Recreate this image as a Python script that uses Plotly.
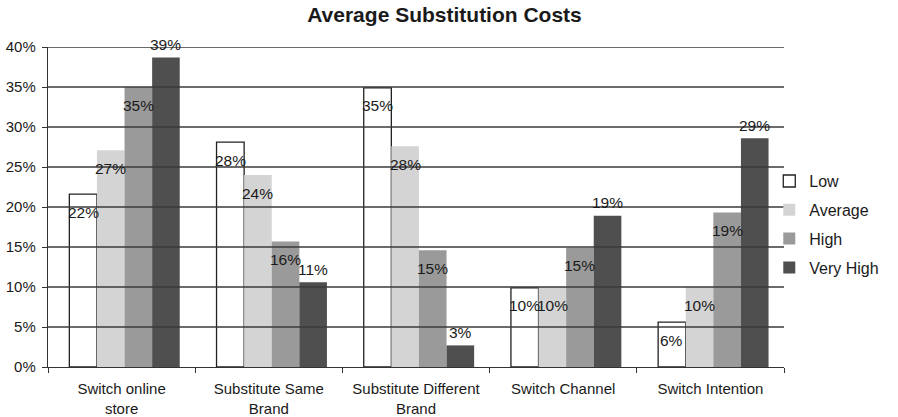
import plotly.graph_objects as go

# Categories (wrapped on two lines where the axis label wraps)
categories = [
    "Switch online<br>store",
    "Substitute Same<br>Brand",
    "Substitute Different<br>Brand",
    "Switch Channel",
    "Switch Intention",
]

series_names = ["Low", "Average", "High", "Very High"]

# Share of respondents (%) per substitution-cost level
low = [21.6, 28.1, 34.9, 9.9, 5.6]
average = [27.1, 24.0, 27.6, 10.0, 10.0]
high = [35.0, 15.7, 14.6, 14.9, 19.3]
very_high = [38.7, 10.6, 2.7, 18.9, 28.6]

y_ticks = [0, 5, 10, 15, 20, 25, 30, 35, 40]
y_tick_labels = [f"{t}%" for t in y_ticks]

series_values = [low, average, high, very_high]
fills = ["#ffffff", "#d4d4d4", "#9a9a9a", "#4f4f4f"]
outline_widths = [1.3, 0, 0, 0]

FONT = "Liberation Sans, Arial, Helvetica, sans-serif"
BARGAP = 0.25
GROUP_SHIFT = 0.02  # bar cluster sits slightly right of the category centre

n = len(series_names)
bar_w = (1 - BARGAP) / n


def bar_center_offset(i):
    return -(1 - BARGAP) / 2 + (i + 0.5) * bar_w + GROUP_SHIFT


fig = go.Figure()
for i, (name, vals) in enumerate(zip(series_names, series_values)):
    fig.add_trace(go.Bar(
        x=categories,
        y=vals,
        name=name,
        legendgroup=name,
        width=bar_w,
        offset=bar_center_offset(i) - bar_w / 2,
        marker=dict(color=fills[i], line=dict(color="#222222", width=outline_widths[i])),
        hoverinfo="skip",
    ))

# Value labels above (Very High) or just inside the top of each bar
annotations = []
for i, vals in enumerate(series_values):
    off = bar_center_offset(i)
    outside = (i == n - 1)
    for j, v in enumerate(vals):
        annotations.append(dict(
            x=j + off, y=v, xref="x", yref="y",
            text=f"{v:.0f}%", showarrow=False,
            yshift=13 if outside else -18,
            font=dict(family=FONT, size=15.5, color="#1a1a1a"),
        ))

# Horizontal gridlines drawn over the bars
shapes = []
for t in y_ticks[1:]:
    shapes.append(dict(
        type="line", xref="paper", x0=0, x1=1, yref="y", y0=t, y1=t,
        line=dict(color="#3a3a3a", width=1.4), layer="above",
    ))

fig.update_layout(
    width=898, height=417, autosize=False,
    margin=dict(l=48, r=114, t=47, b=50, autoexpand=False),
    paper_bgcolor="white", plot_bgcolor="white",
    barmode="group", bargap=BARGAP, bargroupgap=0,
    font=dict(family=FONT, color="#1a1a1a"),
    title=dict(
        text="<b>Average Substitution Costs</b>",
        font=dict(family=FONT, size=21, color="#1a1a1a"),
        x=0.495, xref="container", xanchor="center",
        y=1 - 15 / 417, yref="container", yanchor="middle",
    ),
    xaxis=dict(
        type="category", showgrid=False, showline=True,
        linecolor="#333333", linewidth=1.4,
        ticks="outside", tickson="boundaries", ticklen=5,
        tickcolor="#333333", tickwidth=1.4,
        tickangle=0, automargin=False,
        ticklabelstandoff=8,
        tickfont=dict(family=FONT, size=15, color="#1a1a1a"),
    ),
    yaxis=dict(
        range=[0, 40], tickvals=y_ticks, ticktext=y_tick_labels,
        showgrid=False, zeroline=False, showline=True,
        linecolor="#333333", linewidth=1.4,
        ticks="outside", ticklen=5, tickcolor="#333333", tickwidth=1.4,
        automargin=False, ticklabelstandoff=3,
        tickfont=dict(family=FONT, size=15, color="#1a1a1a"),
    ),
    legend=dict(
        x=0.98, xanchor="left", y=0.634, yanchor="top",
        font=dict(family=FONT, size=16, color="#1a1a1a"),
        tracegroupgap=5, bgcolor="rgba(0,0,0,0)",
    ),
    annotations=annotations,
    shapes=shapes,
)

fig.write_html("out.html")
